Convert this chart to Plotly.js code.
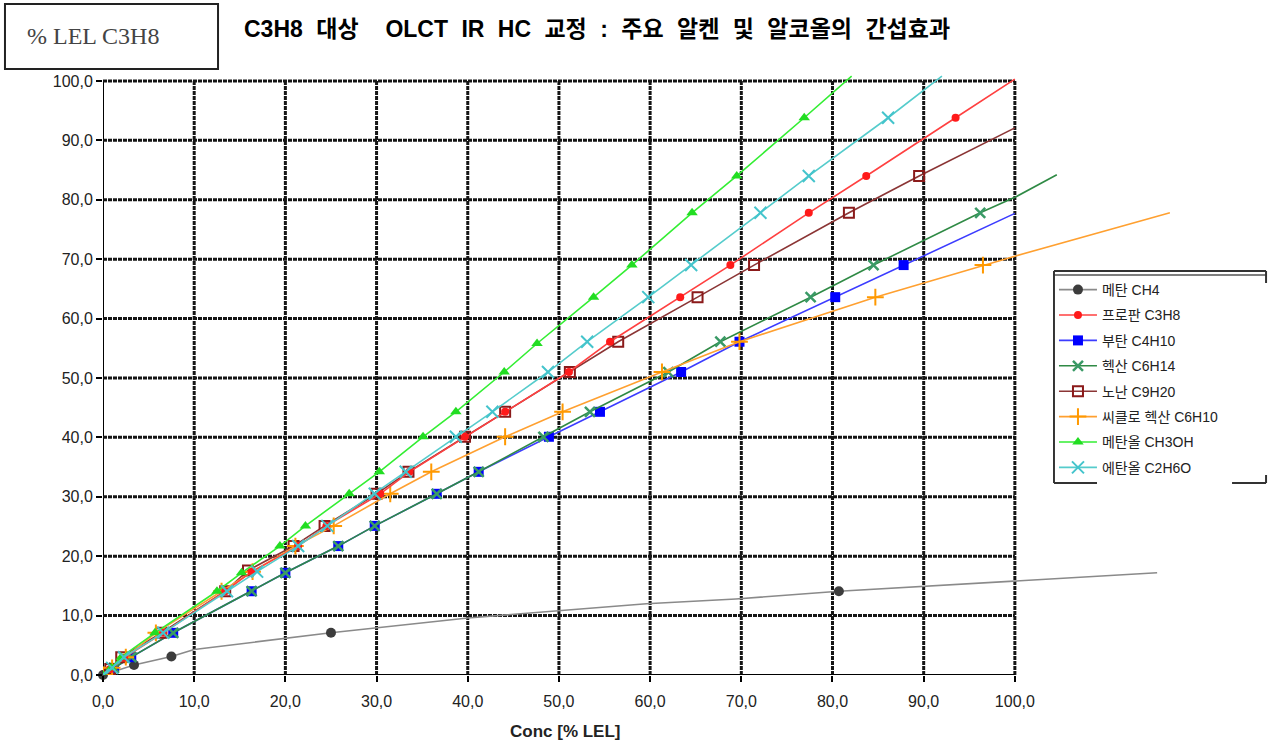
<!DOCTYPE html>
<html>
<head>
<meta charset="utf-8">
<script src="https://cdn.plot.ly/plotly-3.0.1.min.js"></script>
<style>html,body{margin:0;padding:0;background:#fff}</style>
</head>
<body>
<div id="chart" style="width:1269px;height:745px"></div>
<script>
// ---------- tick labels ----------
const xTicks = [0, 10, 20, 30, 40, 50, 60, 70, 80, 90, 100];
const yTicks = [0, 10, 20, 30, 40, 50, 60, 70, 80, 90, 100];

// ---------- series names ----------
const seriesNames = ['메탄 CH4', '프로판 C3H8', '부탄 C4H10', '헥산 C6H14', '노난 C9H20', '씨클로 헥산 C6H10', '메탄올 CH3OH', '에탄올 C2H6O'];

// ---------- measured points (markers) and extra line vertices ----------
const ch4MarkX = [0, 3.4, 7.5, 25.0, 80.7];
const ch4MarkY = [0, 1.7, 3.1, 7.1, 14.1];
const ch4LineX = [10, 40, 59.6, 69.4, 100, 115.6];
const ch4LineY = [4.3, 9.6, 12.0, 12.8, 15.8, 17.2];

const c3h8MarkX = [0, 0.8, 2.3, 6.6, 13.4, 16.3, 21.4, 24.5, 30.4, 33.6, 39.7, 44.1, 51.1, 55.6, 63.3, 68.8, 77.4, 83.7, 93.5];
const c3h8MarkY = [0, 1.0, 2.9, 7.1, 14.1, 17.4, 21.7, 25.1, 30.5, 34.2, 40.1, 44.3, 51.0, 56.1, 63.6, 69.0, 77.8, 84.0, 93.8];
const c3h8LineX = [100];
const c3h8LineY = [100.3];

const c4h10MarkX = [0, 1.2, 3.1, 7.7, 16.3, 20.0, 25.8, 29.8, 36.6, 41.2, 48.9, 54.5, 63.4, 69.8, 80.3, 87.8];
const c4h10MarkY = [0, 1.2, 3.0, 7.1, 14.1, 17.2, 21.7, 25.1, 30.5, 34.2, 40.1, 44.3, 51.0, 56.1, 63.6, 69.0];
const c4h10LineX = [100];
const c4h10LineY = [77.7];

const c6h14MarkX = [0, 1.2, 3.1, 7.7, 16.3, 20.0, 25.8, 29.8, 36.6, 41.2, 48.3, 53.4, 62.0, 67.7, 77.6, 84.5, 96.2];
const c6h14MarkY = [0, 1.2, 3.0, 7.1, 14.1, 17.2, 21.7, 25.1, 30.5, 34.2, 40.1, 44.3, 51.0, 56.1, 63.6, 69.0, 77.8];
const c6h14LineX = [100, 104.6];
const c6h14LineY = [80.4, 84.2];

const c9h20MarkX = [0, 0.8, 2.0, 6.4, 13.4, 15.9, 20.9, 24.3, 30.0, 33.5, 39.7, 44.1, 51.2, 56.5, 65.2, 71.4, 81.8, 89.5];
const c9h20MarkY = [0, 1.0, 3.0, 7.1, 14.1, 17.6, 21.7, 25.1, 30.5, 34.2, 40.1, 44.3, 51.0, 56.1, 63.6, 69.0, 77.8, 84.0];
const c9h20LineX = [100];
const c9h20LineY = [92.1];

const c6h10MarkX = [0, 1.0, 2.5, 5.8, 13.0, 16.4, 21.1, 25.3, 31.5, 36.0, 44.1, 50.4, 61.3, 69.8, 84.7, 96.5];
const c6h10MarkY = [0, 1.2, 3.0, 7.1, 14.1, 17.4, 21.7, 25.1, 30.5, 34.2, 40.1, 44.3, 51.0, 56.1, 63.6, 69.0];
const c6h10LineX = [100, 117.0];
const c6h10LineY = [70.5, 77.8];

const ch3ohMarkX = [0, 0.9, 2.0, 5.7, 12.5, 15.2, 19.4, 22.2, 27.0, 30.3, 35.1, 38.7, 44.0, 47.6, 53.8, 58.0, 64.6, 69.5, 76.9];
const ch3ohMarkY = [0, 1.2, 3.0, 7.1, 14.1, 17.2, 21.7, 25.1, 30.5, 34.2, 40.1, 44.3, 51.0, 55.8, 63.6, 69.0, 77.8, 84.0, 93.8];
const ch3ohLineX = [82.1];
const ch3ohLineY = [100.8];

const c2h6oMarkX = [0, 1.0, 2.3, 6.6, 13.6, 16.9, 21.4, 24.6, 29.8, 33.2, 38.7, 42.7, 48.8, 53.1, 59.8, 64.5, 72.1, 77.4, 86.1];
const c2h6oMarkY = [0, 1.2, 3.0, 7.1, 14.1, 17.4, 21.7, 25.1, 30.5, 34.2, 40.1, 44.3, 51.0, 56.1, 63.6, 69.0, 77.8, 84.0, 93.8];
const c2h6oLineX = [92.0];
const c2h6oLineY = [100.8];

// ---------- styles ----------
const styles = [
  {line:'#8a8a8a', mc:'#3c3c3c', sym:'circle', size:10, lw:0, z:1},
  {line:'#ff4040', mc:'#ff1a1a', sym:'circle', size:8, lw:0, z:6},
  {line:'#3c3cff', mc:'#0000ff', sym:'square', size:10, lw:0, z:2},
  {line:'#2f8a45', mc:'#3a9a66', sym:'x-thin', size:10, lw:2.5, z:3},
  {line:'#8b3535', mc:'#8b1a1a', sym:'square-open', size:10, lw:2, z:4},
  {line:'#ffa030', mc:'#ff9900', sym:'cross-thin', size:12, lw:2, z:5},
  {line:'#33ee33', mc:'#22dd22', sym:'triangle-up', size:10, lw:0, z:7},
  {line:'#55cccc', mc:'#44c4cc', sym:'x-thin', size:12, lw:2, z:8}
];

const seriesData = [
  [ch4MarkX, ch4MarkY, ch4LineX, ch4LineY],
  [c3h8MarkX, c3h8MarkY, c3h8LineX, c3h8LineY],
  [c4h10MarkX, c4h10MarkY, c4h10LineX, c4h10LineY],
  [c6h14MarkX, c6h14MarkY, c6h14LineX, c6h14LineY],
  [c9h20MarkX, c9h20MarkY, c9h20LineX, c9h20LineY],
  [c6h10MarkX, c6h10MarkY, c6h10LineX, c6h10LineY],
  [ch3ohMarkX, ch3ohMarkY, ch3ohLineX, ch3ohLineY],
  [c2h6oMarkX, c2h6oMarkY, c2h6oLineX, c2h6oLineY]
];

const traces = seriesData.map((d, i) => {
  const st = styles[i];
  const pts = d[0].map((x, k) => ({x: x, y: d[1][k], m: true}))
    .concat(d[2].map((x, k) => ({x: x, y: d[3][k], m: false})));
  pts.sort((a, b) => a.x - b.x);
  const colors = pts.map(p => p.m ? st.mc : 'rgba(0,0,0,0)');
  return {
    type: 'scatter',
    mode: 'lines+markers',
    name: seriesNames[i],
    x: pts.map(p => p.x),
    y: pts.map(p => p.y),
    legendgroup: 'g' + i,
    zorder: st.z,
    cliponaxis: false,
    line: {color: st.line, width: 1.6},
    marker: {symbol: st.sym, size: st.size, color: colors,
             line: {color: colors, width: st.lw}},
    hoverinfo: 'skip'
  };
});

// ---------- grid shapes ----------
const shapes = [];
xTicks.forEach(t => {
  const edge = t === 0;
  shapes.push({type:'line', xref:'x', yref:'y', x0:t, x1:t, y0:0, y1:100, layer:'below',
    line:{color: edge ? '#000' : '#151515', width: edge ? 2 : 3, dash: edge ? 'solid' : '4px,1px'}});
});
yTicks.forEach(t => {
  const edge = t === 0;
  shapes.push({type:'line', xref:'x', yref:'y', x0:0, x1:100, y0:t, y1:t, layer:'below',
    line:{color: edge ? '#000' : '#151515', width: edge ? 2 : 3, dash: edge ? 'solid' : '4px,1px'}});
});
// box for the unit label
shapes.push({type:'rect', xref:'paper', yref:'paper', x0:-0.0911, x1:0.1069, y0:1.005, y1:1.1128,
  line:{color:'#222', width:2}, fillcolor:'rgba(0,0,0,0)', layer:'above'});
// legend frame (white panel, double top edge, broken right/bottom edges)
const lgL = 0.8838, lgR = 1.0809, lgT = 0.6700, lgB = 0.3184;
const frame = {color:'#333', width:2};
shapes.push({type:'rect', xref:'paper', yref:'paper', x0:lgL, x1:lgR, y0:lgB, y1:lgT,
  line:{width:0}, fillcolor:'#ffffff', layer:'above'});
shapes.push({type:'line', xref:'paper', yref:'paper', x0:lgL, x1:lgR, y0:lgT, y1:lgT, line:frame, layer:'above'});
shapes.push({type:'line', xref:'paper', yref:'paper', x0:lgL, x1:lgR, y0:0.6633, y1:0.6633, line:{color:'#555', width:1.5}, layer:'above'});
shapes.push({type:'line', xref:'paper', yref:'paper', x0:lgL, x1:lgL, y0:lgB, y1:lgT, line:frame, layer:'above'});
shapes.push({type:'line', xref:'paper', yref:'paper', x0:lgR, x1:lgR, y0:0.6501, y1:lgT, line:frame, layer:'above'});
shapes.push({type:'line', xref:'paper', yref:'paper', x0:lgR, x1:lgR, y0:lgB, y1:0.3317, line:frame, layer:'above'});
shapes.push({type:'line', xref:'paper', yref:'paper', x0:lgL, x1:0.9238, y0:lgB, y1:lgB, line:frame, layer:'above'});
shapes.push({type:'line', xref:'paper', yref:'paper', x0:1.0493, x1:lgR, y0:lgB, y1:lgB, line:frame, layer:'above'});

const baseFont = 'Liberation Sans, Arial, Noto Sans CJK KR, sans-serif';
const cjkFont = 'Liberation Sans, Noto Sans CJK KR, sans-serif';
const sp = '\u2002\u200a';

const layout = {
  width: 1269, height: 745,
  margin: {l:103, r:90, t:72, b:70, pad:0},
  paper_bgcolor: '#ffffff', plot_bgcolor: '#ffffff',
  separators: ',.',
  title: {
    text: ['C3H8', '대상' + sp, 'OLCT', 'IR', 'HC', '교정', ':', '주요', '알켄', '및', '알코올의', '간섭효과'].join(sp),
    xref: 'container', yref: 'container',
    x: 244/1269, xanchor: 'left', y: 1 - 29/745, yanchor: 'middle',
    font: {family: cjkFont, size: 23, color: '#000', weight: 'bold'}
  },
  xaxis: {
    range: [0, 118], tickvals: xTicks, tickformat: '.1f',
    ticks: 'outside', ticklen: 6, tickwidth: 2, tickcolor: '#000',
    showgrid: false, zeroline: false, showline: false, fixedrange: true,
    ticklabelstandoff: 6,
    tickfont: {family: baseFont, size: 16, color: '#222'}
  },
  yaxis: {
    range: [0, 101.5], tickvals: yTicks, tickformat: '.1f',
    ticks: 'outside', ticklen: 6, tickwidth: 2, tickcolor: '#000',
    showgrid: false, zeroline: false, showline: false, fixedrange: true,
    tickfont: {family: baseFont, size: 16, color: '#222'}
  },
  showlegend: true,
  legend: {
    xref: 'paper', yref: 'paper',
    x: 0.8838, xanchor: 'left', y: 0.665, yanchor: 'top',
    bgcolor: 'rgba(0,0,0,0)', borderwidth: 0,
    itemwidth: 38, traceorder: 'grouped', tracegroupgap: 4.2,
    font: {family: cjkFont, size: 14, color: '#222'}
  },
  shapes: shapes,
  annotations: [
    {text: '% LEL C3H8', xref: 'paper', yref: 'paper', x: -0.0725, y: 1.0597,
     xanchor: 'left', yanchor: 'middle', showarrow: false,
     font: {family: 'Liberation Serif, Times New Roman, serif', size: 24, color: '#444'}},
    {text: 'Conc [% LEL]', xref: 'paper', yref: 'paper', x: 0.4294, y: -0.0945,
     xanchor: 'center', yanchor: 'middle', showarrow: false,
     font: {family: baseFont, size: 17, color: '#222', weight: 'bold'}}
  ]
};

Plotly.newPlot('chart', traces, layout, {displayModeBar: false, staticPlot: true});
</script>
</body>
</html>
